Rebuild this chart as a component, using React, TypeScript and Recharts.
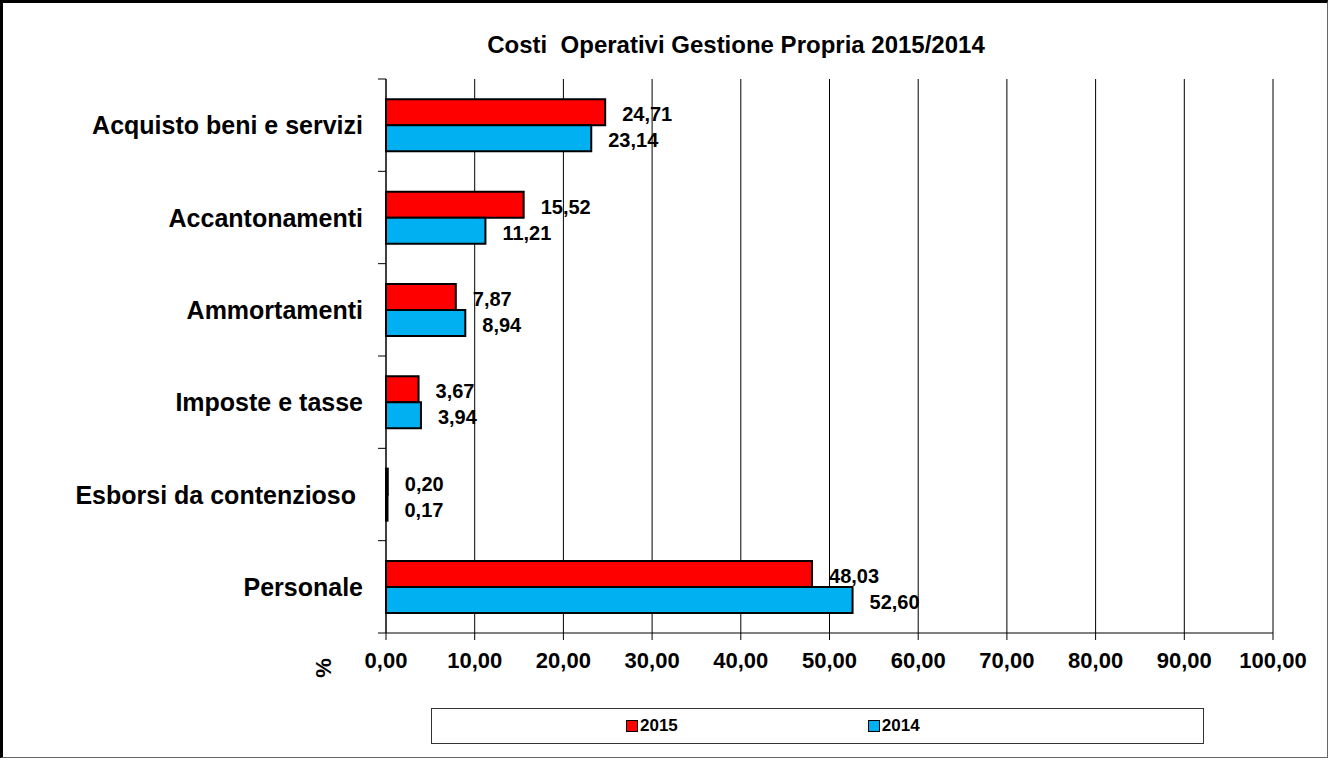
import React from "react";
import {
  BarChart,
  Bar,
  XAxis,
  YAxis,
  CartesianGrid,
  LabelList,
  Legend,
} from "recharts";

const categories = [
  "Acquisto beni e servizi",
  "Accantonamenti",
  "Ammortamenti",
  "Imposte e tasse",
  "Esborsi da contenzioso ",
  "Personale",
];
const values2015 = [24.71, 15.52, 7.87, 3.67, 0.2, 48.03];
const values2014 = [23.14, 11.21, 8.94, 3.94, 0.17, 52.6];
const xTicks = [0, 10, 20, 30, 40, 50, 60, 70, 80, 90, 100];

const data = categories.map((name, i) => ({
  name,
  y2015: values2015[i],
  y2014: values2014[i],
}));

const FONT = "'Liberation Sans', Arial, sans-serif";
const fmt = (v: number) => Number(v).toFixed(2).replace(".", ",");

// category name in the band centre, small tick marks on the band borders
const CategoryTick = (props: any) => {
  const { x, y, payload, index, visibleTicksCount } = props;
  const half = payload.offset || 0;
  const last = index === visibleTicksCount - 1;
  return (
    <g>
      <line x1={x - 8} y1={y - half} x2={x} y2={y - half} stroke="#000" strokeWidth={1} />
      {last && <line x1={x - 8} y1={y + half} x2={x} y2={y + half} stroke="#000" strokeWidth={1} />}
      <text
        x={x - 23}
        y={y}
        textAnchor="end"
        dominantBaseline="central"
        fontSize={25}
        fontWeight="bold"
        fontFamily={FONT}
        fill="#000"
        style={{ whiteSpace: "pre" }}
      >
        {payload.value}
      </text>
    </g>
  );
};

const PercentLabel = (props: any) => {
  const { x, y } = props.viewBox;
  const cx = x - 63;
  const cy = y + 35;
  return (
    <text
      x={cx}
      y={cy}
      textAnchor="middle"
      dominantBaseline="central"
      transform={`rotate(-90 ${cx} ${cy})`}
      fontSize={22}
      fontWeight="bold"
      fontFamily={FONT}
      fill="#000"
    >
      %
    </text>
  );
};

const LegendBox = () => (
  <div
    style={{
      boxSizing: "border-box",
      height: 36,
      border: "1px solid #333",
      display: "flex",
      alignItems: "center",
      paddingLeft: 194,
      gap: 190,
      fontFamily: FONT,
      fontWeight: "bold",
      fontSize: 17,
      background: "#fff",
    }}
  >
    {[
      { label: "2015", color: "#ff0000" },
      { label: "2014", color: "#00b0f0" },
    ].map((it) => (
      <div key={it.label} style={{ display: "flex", alignItems: "center" }}>
        <span
          style={{
            display: "inline-block",
            width: 10,
            height: 10,
            border: "1.5px solid #000",
            background: it.color,
            marginRight: 2,
          }}
        />
        <span>{it.label}</span>
      </div>
    ))}
  </div>
);

const labelStyle = { fontSize: 20, fontWeight: "bold", fontFamily: FONT, fill: "#000" };

export default function App() {
  return (
    <div style={{ position: "absolute", left: 0, top: 0, width: 1331, height: 762, background: "#fff" }}>
      <div
        style={{
          position: "absolute",
          left: 0,
          top: 0,
          width: 1328,
          height: 758,
          boxSizing: "border-box",
          borderTop: "3px solid #000",
          borderLeft: "3px solid #000",
          borderRight: "1px solid #666",
          borderBottom: "1px solid #666",
        }}
      />
      <div
        style={{
          position: "absolute",
          left: 436,
          top: 33,
          width: 600,
          textAlign: "center",
          fontFamily: FONT,
          fontWeight: "bold",
          fontSize: 24,
          lineHeight: "24px",
          whiteSpace: "pre",
        }}
      >
        Costi  Operativi Gestione Propria 2015/2014
      </div>
      <div style={{ position: "absolute", left: 0, top: 0 }}>
        <BarChart
          width={1331}
          height={762}
          data={data}
          layout="vertical"
          margin={{ top: 79, right: 58, bottom: 18, left: 0 }}
          barCategoryGap="22%"
          barGap={0}
        >
          <CartesianGrid horizontal={false} stroke="#000" strokeWidth={1} />
          <XAxis
            type="number"
            domain={[0, 100]}
            ticks={xTicks}
            interval={0}
            tickFormatter={fmt}
            height={75}
            tickSize={7}
            tickMargin={12}
            axisLine={{ stroke: "#000" }}
            tickLine={{ stroke: "#000" }}
            tick={{ fontSize: 22, fontWeight: "bold", fontFamily: FONT, fill: "#000" }}
            label={<PercentLabel />}
          />
          <XAxis
            xAxisId="top"
            orientation="top"
            type="number"
            domain={[0, 100]}
            height={0}
            tick={false}
            tickLine={false}
            axisLine={{ stroke: "#000" }}
          />
          <YAxis
            type="category"
            dataKey="name"
            width={386}
            interval={0}
            tickSize={0}
            tickMargin={0}
            tickLine={false}
            axisLine={{ stroke: "#000" }}
            tick={<CategoryTick />}
          />
          <Bar
            dataKey="y2015"
            name="2015"
            fill="#ff0000"
            stroke="#000"
            strokeWidth={2}
            isAnimationActive={false}
          >
            <LabelList
              dataKey="y2015"
              position="right"
              offset={17}
              formatter={(v: any) => fmt(v)}
              style={labelStyle}
              dy={2}
            />
          </Bar>
          <Bar
            dataKey="y2014"
            name="2014"
            fill="#00b0f0"
            stroke="#000"
            strokeWidth={2}
            isAnimationActive={false}
          >
            <LabelList
              dataKey="y2014"
              position="right"
              offset={17}
              formatter={(v: any) => fmt(v)}
              style={labelStyle}
              dy={2}
            />
          </Bar>
          <Legend content={<LegendBox />} wrapperStyle={{ left: 431, width: 773 }} />
        </BarChart>
      </div>
    </div>
  );
}
